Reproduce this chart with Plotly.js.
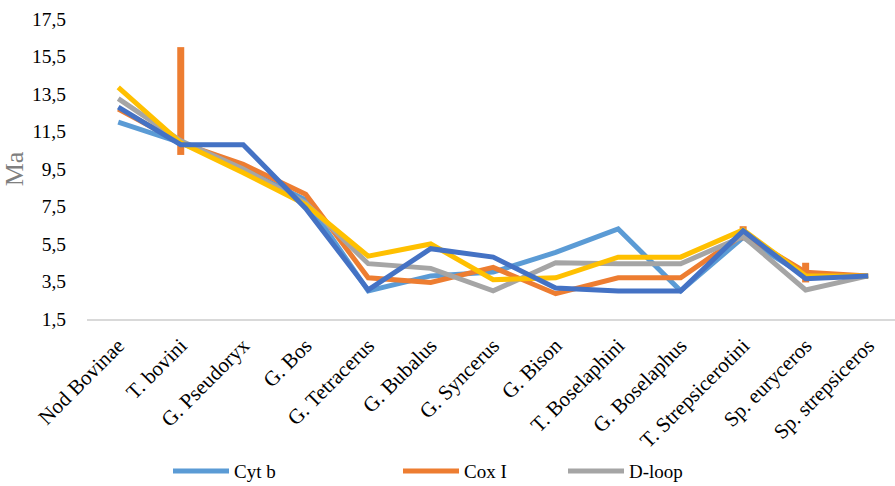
<!DOCTYPE html>
<html>
<head>
<meta charset="utf-8">
<script src="https://cdn.plot.ly/plotly-3.0.1.min.js"></script>
<style>
  html, body { margin: 0; padding: 0; background: #ffffff; }
  #chart { width: 895px; height: 486px; }
</style>
</head>
<body>
<div id="chart"></div>
<script>
// Divergence time estimates (Ma) per node, by marker
const nodes = ['Nod Bovinae', 'T. bovini', 'G. Pseudoryx', 'G. Bos', 'G. Tetracerus',
  'G. Bubalus', 'G. Syncerus', 'G. Bison', 'T. Boselaphini', 'G. Boselaphus',
  'T. Strepsicerotini', 'Sp. euryceros', 'Sp. strepsiceros'];

const cytB    = [12.0, 10.9, 9.5, 7.85, 3.0, 3.8, 4.0, 5.05, 6.3, 3.0, 5.85, 3.8, 3.8];
const coxI    = [12.7, 10.9, 9.75, 8.15, 3.7, 3.45, 4.25, 2.85, 3.7, 3.7, 6.0, 4.0, 3.8];
const dLoop   = [13.25, 11.0, 9.5, 7.7, 4.45, 4.2, 3.0, 4.5, 4.45, 4.45, 5.9, 3.05, 3.8];
const rRna12S = [13.85, 10.9, 9.3, 7.6, 4.85, 5.5, 3.6, 3.7, 4.8, 4.8, 6.25, 3.8, 3.8];
const rRna16S = [12.8, 10.8, 10.8, 7.4, 3.05, 5.25, 4.8, 3.15, 3.0, 3.0, 6.2, 3.65, 3.8];

// Cox I confidence ranges (upper / lower offsets)
const coxIPlus  = [0, 5.1, 0, 0, 0, 0, 0, 0, 0, 0, 0.45, 0.5, 0];
const coxIMinus = [0, 0.65, 0, 0, 0, 0, 0, 0, 0, 0, 0.3, 0.55, 0];

const yTicks = [1.5, 3.5, 5.5, 7.5, 9.5, 11.5, 13.5, 15.5, 17.5];

function series(name, y, color, extra) {
  return Object.assign({
    type: 'scatter', mode: 'lines', name: name, x: nodes, y: y,
    line: { color: color, width: 5, shape: 'linear' },
    hoverinfo: 'x+y+name'
  }, extra || {});
}

const traces = [
  series('Cyt b', cytB, '#5B9BD5', { legend: 'legend' }),
  series('Cox I', coxI, '#ED7D31', {
    legend: 'legend2',
    error_y: { type: 'data', symmetric: false, array: coxIPlus, arrayminus: coxIMinus,
      color: '#ED7D31', thickness: 7, width: 0 }
  }),
  series('D-loop', dLoop, '#A5A5A5', { legend: 'legend3' }),
  series('12S rRNA', rRna12S, '#FFC000', { showlegend: false }),
  series('16S rRNA', rRna16S, '#4472C4', { showlegend: false })
];

const serif = '"Liberation Serif", "DejaVu Serif", serif';

// one legend box per visible entry, spaced along the bottom row
function legendAt(px) {
  return {
    orientation: 'h', x: (px - 87) / 808, xanchor: 'left',
    y: -0.507, yanchor: 'middle',
    font: { family: serif, size: 19, color: '#000000' },
    itemwidth: 56, bgcolor: 'rgba(0,0,0,0)', borderwidth: 0
  };
}

const layout = {
  width: 895, height: 486,
  margin: { l: 87, r: 0, t: 19, b: 167, pad: 0, autoexpand: false },
  paper_bgcolor: '#ffffff', plot_bgcolor: '#ffffff',
  separators: ', ',
  font: { family: serif, color: '#000000', size: 20 },
  showlegend: true,
  legend: legendAt(168),
  legend2: legendAt(398),
  legend3: legendAt(563),
  xaxis: {
    type: 'category', range: [-0.5, 12.43], automargin: false,
    showgrid: false, zeroline: false,
    showline: true, linecolor: '#D9D9D9', linewidth: 2,
    ticks: '', tickangle: -45, ticklabelstandoff: 4,
    tickfont: { family: serif, size: 21, color: '#000000' },
    fixedrange: true
  },
  yaxis: {
    range: [1.5, 17.5], tickvals: yTicks, tickformat: '.1f', automargin: false,
    showgrid: false, zeroline: false, showline: false, ticks: '',
    ticklabelstandoff: 20,
    tickfont: { family: serif, size: 19.5, color: '#000000' },
    title: { text: 'Ma', font: { family: serif, size: 26, color: '#7F7F7F' }, standoff: 2 },
    fixedrange: true
  }
};

Plotly.newPlot('chart', traces, layout, { displayModeBar: false, staticPlot: true });
</script>
</body>
</html>
